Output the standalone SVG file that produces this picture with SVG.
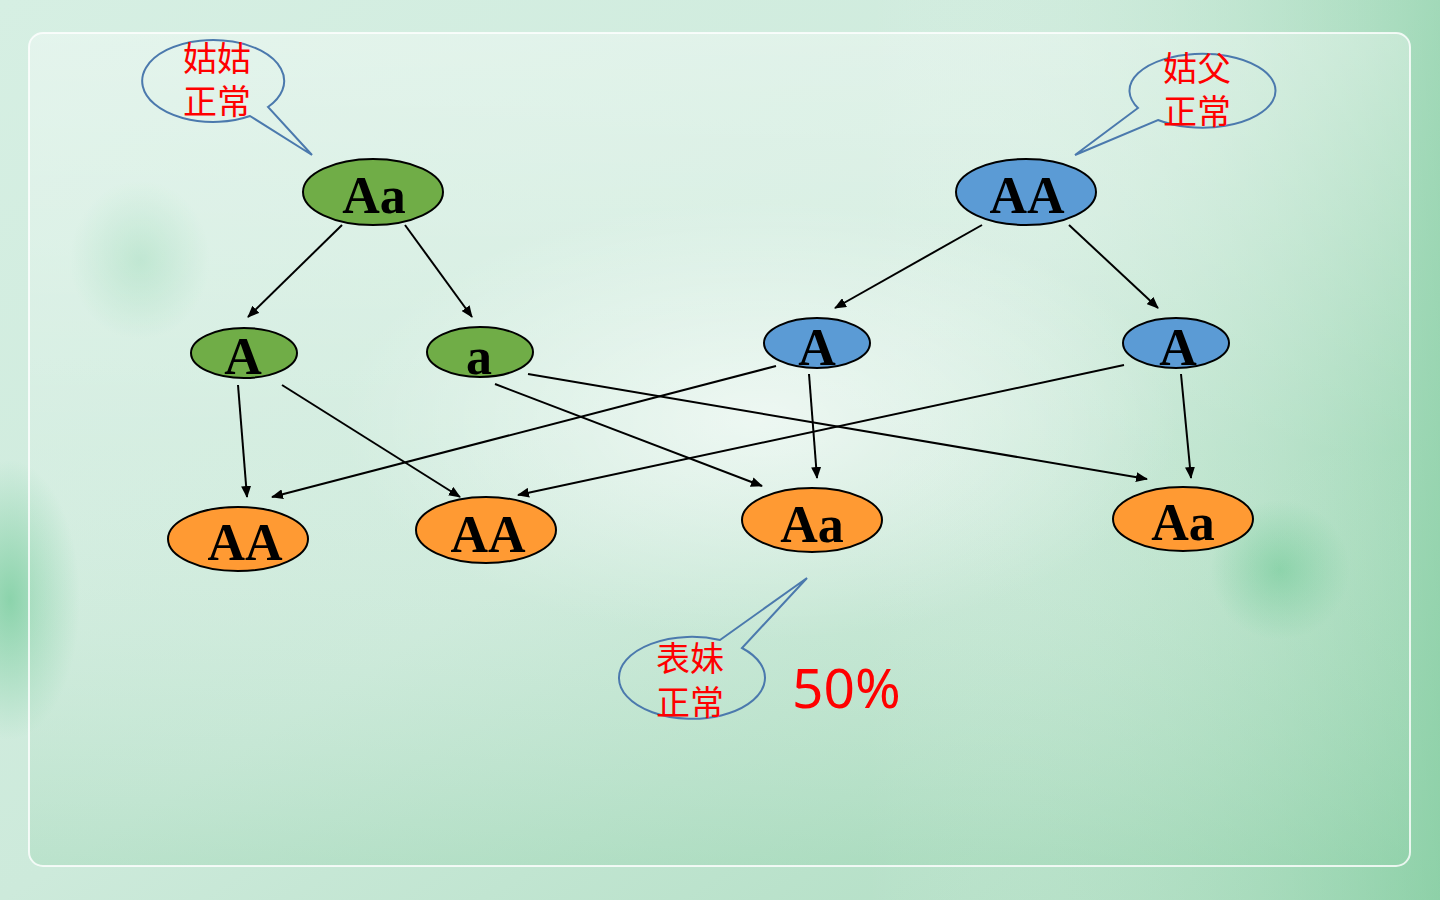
<svg xmlns="http://www.w3.org/2000/svg" width="1440" height="900" viewBox="0 0 1440 900">
<defs>
<linearGradient id="bg" x1="0" y1="0" x2="1" y2="1">
<stop offset="0" stop-color="#d6efe3"/>
<stop offset="0.5" stop-color="#cdeadb"/>
<stop offset="1" stop-color="#a9dbbd"/>
</linearGradient>
<linearGradient id="bgR" x1="0" y1="0" x2="1" y2="0">
<stop offset="0" stop-color="#ffffff" stop-opacity="0"/>
<stop offset="0.6" stop-color="#ffffff" stop-opacity="0"/>
<stop offset="1" stop-color="#6cc48e" stop-opacity="0.45"/>
</linearGradient>
<linearGradient id="bgB" x1="0" y1="0" x2="0" y2="1">
<stop offset="0" stop-color="#ffffff" stop-opacity="0.35"/>
<stop offset="0.5" stop-color="#ffffff" stop-opacity="0.1"/>
<stop offset="1" stop-color="#8fd0a8" stop-opacity="0.3"/>
</linearGradient>
<radialGradient id="blob" cx="0.5" cy="0.5" r="0.5">
<stop offset="0" stop-color="#5ec38a" stop-opacity="0.6"/>
<stop offset="1" stop-color="#5ec38a" stop-opacity="0"/>
</radialGradient>
<radialGradient id="glow" cx="0.5" cy="0.5" r="0.5">
<stop offset="0" stop-color="#ffffff" stop-opacity="0.6"/>
<stop offset="1" stop-color="#ffffff" stop-opacity="0"/>
</radialGradient>
<marker id="ah" viewBox="0 0 12 10" refX="11" refY="5" markerWidth="12" markerHeight="10" markerUnits="userSpaceOnUse" orient="auto">
<path d="M0,0 L12,5 L0,10 z" fill="#000"/>
</marker>
<style>
.green{fill:#70ad47;stroke:#000;stroke-width:2}
.blue{fill:#5b9bd5;stroke:#000;stroke-width:2}
.orange{fill:#ff9a33;stroke:#000;stroke-width:2}
.g{font-family:"Liberation Serif","Times New Roman",serif;font-weight:bold;font-size:52px;fill:#000;text-anchor:middle}
.cn{font-family:"Noto Sans CJK SC",sans-serif;font-size:34px;fill:#ff0000;text-anchor:middle}
.pct{font-family:"Noto Sans","Noto Sans CJK SC",sans-serif;font-size:55px;fill:#ff0000}
.bubble{fill:none;stroke:#4b79ad;stroke-width:2}
.conn line{stroke:#000;stroke-width:2;marker-end:url(#ah)}
</style>
</defs>

<g id="background">
<rect width="1440" height="900" fill="url(#bg)"/>
<rect width="1440" height="900" fill="url(#bgR)"/>
<ellipse cx="10" cy="600" rx="70" ry="140" fill="url(#blob)"/>
<ellipse cx="1280" cy="570" rx="70" ry="70" fill="url(#blob)"/>
<ellipse cx="140" cy="260" rx="70" ry="80" fill="url(#blob)" opacity="0.5"/>
<ellipse cx="760" cy="420" rx="420" ry="220" fill="url(#glow)"/>
<rect x="29" y="33" width="1381" height="833" rx="14" fill="url(#bgB)" stroke="#ffffff" stroke-opacity="0.8" stroke-width="2"/>
</g>

<g id="connectors" class="conn">
<line x1="342" y1="225" x2="248" y2="317"/>
<line x1="405" y1="225" x2="472" y2="317"/>
<line x1="982" y1="225" x2="835" y2="308"/>
<line x1="1069" y1="225" x2="1158" y2="308"/>
<line x1="238" y1="385" x2="247" y2="497"/>
<line x1="282" y1="385" x2="460" y2="497"/>
<line x1="495" y1="384" x2="762" y2="486"/>
<line x1="528" y1="374" x2="1147" y2="479"/>
<line x1="776" y1="366" x2="272" y2="497"/>
<line x1="809" y1="374" x2="817" y2="478"/>
<line x1="1124" y1="365" x2="518" y2="495"/>
<line x1="1181" y1="374" x2="1191" y2="478"/>
</g>

<g id="node-aunt">
<ellipse class="green" cx="373" cy="192" rx="70" ry="33"/>
<text class="g" x="374" y="213">Aa</text>
</g>
<g id="node-uncle">
<ellipse class="blue" cx="1026" cy="192" rx="70" ry="33"/>
<text class="g" x="1027" y="213">AA</text>
</g>
<g id="node-gamete-A1">
<ellipse class="green" cx="244" cy="353" rx="53" ry="25"/>
<text class="g" x="243" y="374">A</text>
</g>
<g id="node-gamete-a">
<ellipse class="green" cx="480" cy="352" rx="53" ry="25"/>
<text class="g" x="479" y="374">a</text>
</g>
<g id="node-gamete-A2">
<ellipse class="blue" cx="817" cy="343" rx="53" ry="25"/>
<text class="g" x="817" y="365">A</text>
</g>
<g id="node-gamete-A3">
<ellipse class="blue" cx="1176" cy="343" rx="53" ry="25"/>
<text class="g" x="1178" y="365">A</text>
</g>
<g id="node-child-AA1">
<ellipse class="orange" cx="238" cy="539" rx="70" ry="32"/>
<text class="g" x="245" y="560">AA</text>
</g>
<g id="node-child-AA2">
<ellipse class="orange" cx="486" cy="530" rx="70" ry="33"/>
<text class="g" x="488" y="552">AA</text>
</g>
<g id="node-child-Aa3">
<ellipse class="orange" cx="812" cy="520" rx="70" ry="32"/>
<text class="g" x="812" y="542">Aa</text>
</g>
<g id="node-child-Aa4">
<ellipse class="orange" cx="1183" cy="519" rx="70" ry="32"/>
<text class="g" x="1183" y="540">Aa</text>
</g>

<g id="callout-aunt">
<path class="bubble" d="M250,116 A71,41 0 1 1 268,107 L312,155 Z"/>
<text class="cn" x="217" y="71">姑姑<tspan x="217" dy="43">正常</tspan></text>
</g>
<g id="callout-uncle">
<path class="bubble" d="M1138,108 A73,37 0 1 1 1158,120 L1075,155 Z"/>
<text class="cn" x="1197" y="81">姑父<tspan x="1197" dy="43">正常</tspan></text>
</g>
<g id="callout-cousin">
<path class="bubble" d="M742,648 A73,41 0 1 1 720,640 L807,578 Z"/>
<text class="cn" x="690" y="671">表妹<tspan x="690" dy="44">正常</tspan></text>
</g>
<text class="pct" x="792" y="708">50%</text>
</svg>
